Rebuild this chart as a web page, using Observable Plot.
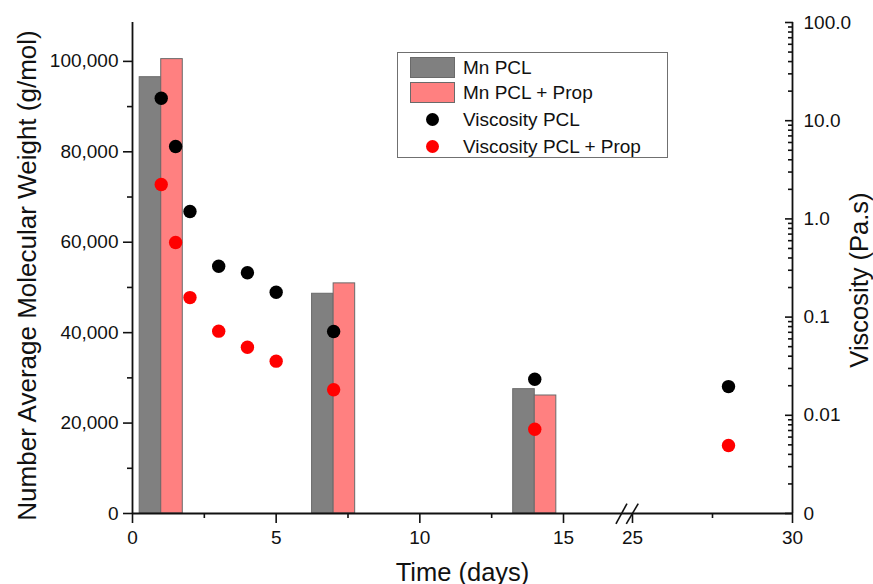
<!DOCTYPE html>
<html>
<head>
<meta charset="utf-8">
<script src="https://cdn.jsdelivr.net/npm/d3@7"></script>
<script src="https://cdn.jsdelivr.net/npm/@observablehq/plot@0.6"></script>
<style>
  body { margin: 0; background: #fff; }
  #chart { position: relative; width: 873px; height: 584px; font-family: "Liberation Sans", Arial, sans-serif; }
  #chart svg { position: absolute; left: 0; top: 0; }
  .legend { position: absolute; left: 397px; top: 52px; width: 271px; height: 106px; border: 1px solid #707070;
            box-sizing: border-box; background: #fff; z-index: 5; font-size: 19px; color: #111; }
  .legend .row { position: absolute; left: 0; height: 24px; display: flex; align-items: center; }
  .legend .sw { position: absolute; left: 12px; width: 45px; height: 21px; box-sizing: border-box; border: 1px solid #6a6a6a; }
  .legend .dot { position: absolute; left: 28px; width: 13px; height: 13px; border-radius: 50%; }
  .legend .lbl { position: absolute; left: 65px; white-space: nowrap; line-height: 24px; }
</style>
</head>
<body>
<div id="chart"></div>
<script>
// Number-average molecular weight (g/mol) at each sampling day
const mnDays = [1, 7, 14];
const mnPCL = [96500, 48600, 27500];
const mnPCLProp = [100500, 50900, 26100];

// Viscosity (Pa.s) at each sampling day
const viscDays = [1, 1.5, 2, 3, 4, 5, 7, 14, 28];
const viscPCL = [16.9, 5.46, 1.19, 0.33, 0.283, 0.179, 0.0714, 0.0233, 0.0196];
const viscPCLProp = [2.24, 0.575, 0.158, 0.0719, 0.0494, 0.0356, 0.0182, 0.00722, 0.00493];

// Axis ticks
const xTicks = [0, 5, 10, 15, 25, 30];
const xMinorTicks = [2.5, 7.5, 12.5, 27.5];
const mnTicks = [0, 20000, 40000, 60000, 80000, 100000];
const mnMinorTicks = [10000, 30000, 50000, 70000, 90000];
const viscTicks = [0.001, 0.01, 0.1, 1, 10, 100];
const viscTickLabels = ["0", "0.01", "0.1", "1.0", "10.0", "100.0"];

const seriesNames = ["Mn PCL", "Mn PCL + Prop", "Viscosity PCL", "Viscosity PCL + Prop"];
const seriesColors = ["#808080", "#ff8080", "#000000", "#ff0000"];

const barWidth = 0.75; // days
const font = "'Liberation Sans', Arial, sans-serif";
const tickFont = 19;

// broken time axis: 0–15 days, then 25–30 days
const xScale = {type: "linear", domain: [0, 15, 25, 30], range: [132, 563, 632, 792]};
const frame = {width: 873, height: 584, marginLeft: 132, marginRight: 81, marginTop: 22, marginBottom: 71};

const bars = [
  ...mnDays.map((day, i) => ({day, mn: mnPCL[i], s: 0})),
  ...mnDays.map((day, i) => ({day, mn: mnPCLProp[i], s: 1}))
];
const visc = [
  ...viscDays.map((day, i) => ({day, v: viscPCL[i], s: 2})),
  ...viscDays.map((day, i) => ({day, v: viscPCLProp[i], s: 3}))
];

// minor ticks of the log axis: 2..9 within each decade
const viscMinorTicks = [];
for (const base of viscTicks.slice(0, -1)) for (let k = 2; k <= 9; ++k) viscMinorTicks.push(+(base * k).toPrecision(3));

const mnMax = 108600;

const lower = Plot.plot({
  ...frame,
  style: {fontFamily: font, fontSize: tickFont + "px", color: "#111", background: "#fff", overflow: "visible"},
  x: xScale,
  y: {domain: [0, mnMax]},
  marks: [
    Plot.rect(bars, {
      x1: d => d.s === 0 ? d.day - barWidth : d.day,
      x2: d => d.s === 0 ? d.day : d.day + barWidth,
      y1: 0, y2: "mn",
      fill: d => seriesColors[d.s],
      stroke: "#6a6a6a", strokeWidth: 1
    }),
    Plot.axisY(mnTicks, {tickSize: 9, tickPadding: 5, tickFormat: d3.format(","), fontSize: tickFont, strokeWidth: 1.6, label: null}),
    Plot.axisY(mnMinorTicks, {tickSize: 5, tickFormat: () => "", strokeWidth: 1.6, label: null}),
    Plot.axisX(xTicks, {tickSize: 10, tickPadding: 7, tickFormat: d => String(d), fontSize: tickFont, strokeWidth: 1.6, label: null}),
    Plot.axisX(xMinorTicks, {tickSize: 5, tickFormat: () => "", strokeWidth: 1.6, label: null}),
    Plot.ruleX([0], {stroke: "#111", strokeWidth: 1.8}),
    Plot.ruleX([30], {stroke: "#111", strokeWidth: 1.8}),
    Plot.ruleY([0], {stroke: "#111", strokeWidth: 1.8}),
    // axis break marks
    Plot.link([{a: 22.6, b: 24.2}, {a: 24.1, b: 25.18}], {
      x1: "a", x2: "b", y1: -2300, y2: 2200, stroke: "#111", strokeWidth: 1.6
    }),
    Plot.text(["Number Average Molecular Weight (g/mol)"], {
      frameAnchor: "left", textAnchor: "middle", lineAnchor: "middle", rotate: -90,
      dx: -105, dy: 7.5, fontSize: 26, fill: "#111"
    }),
    Plot.text(["Time (days)"], {
      frameAnchor: "bottom", textAnchor: "middle", lineAnchor: "middle",
      dx: 0, dy: 59, fontSize: 25.5, fill: "#111"
    })
  ]
});

const upper = Plot.plot({
  ...frame,
  style: {fontFamily: font, fontSize: tickFont + "px", color: "#111", background: "transparent", overflow: "visible"},
  x: {...xScale, axis: null},
  y: {type: "log", domain: [0.001, 100]},
  marks: [
    Plot.dot(visc, {x: "day", y: "v", r: 6.7, fill: d => seriesColors[d.s], stroke: "none"}),
    Plot.axisY(viscTicks, {anchor: "right", tickSize: -8, tickPadding: 19, strokeWidth: 1.6,
      tickFormat: d => viscTickLabels[viscTicks.indexOf(d)], fontSize: tickFont, label: null}),
    Plot.axisY(viscMinorTicks, {anchor: "right", tickSize: -5, tickFormat: () => "", strokeWidth: 1.6, label: null}),
    Plot.text(["Viscosity (Pa.s)"], {
      frameAnchor: "right", textAnchor: "middle", lineAnchor: "middle", rotate: -90,
      dx: 67, dy: 12, fontSize: 25.5, fill: "#111"
    })
  ]
});

const chart = document.getElementById("chart");
chart.append(lower, upper);

// legend
const legend = document.createElement("div");
legend.className = "legend";
const rowTops = [3, 28, 55, 82];
seriesNames.forEach((name, i) => {
  const row = document.createElement("div");
  row.className = "row";
  row.style.top = rowTops[i] + "px";
  const mark = document.createElement("div");
  if (i < 2) {
    mark.className = "sw";
    mark.style.top = "1px";
  } else {
    mark.className = "dot";
    mark.style.top = "5px";
  }
  mark.style.background = seriesColors[i];
  const lbl = document.createElement("div");
  lbl.className = "lbl";
  lbl.textContent = name;
  row.append(mark, lbl);
  legend.append(row);
});
chart.append(legend);
</script>
</body>
</html>
